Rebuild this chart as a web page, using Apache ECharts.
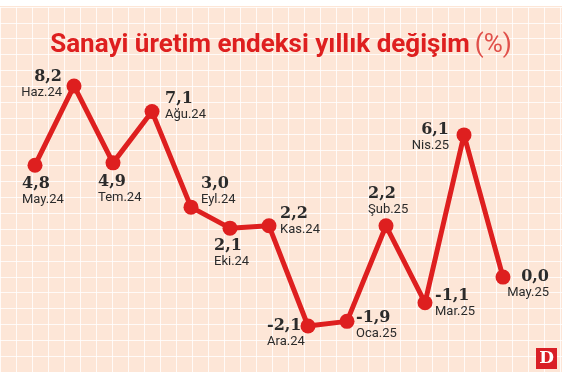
<!DOCTYPE html>
<html>
<head>
<meta charset="utf-8">
<script src="https://cdn.jsdelivr.net/npm/echarts@6/dist/echarts.min.js"></script>
<style>
  html, body { margin: 0; padding: 0; background: #fff; }
  #chart { width: 562px; height: 372px; }
</style>
</head>
<body>
<div id="chart"></div>
<script>
// aylar ve yıllık değişim (%)
let months = ['May.24', 'Haz.24', 'Tem.24', 'Ağu.24', 'Eyl.24', 'Eki.24', 'Kas.24',
              'Ara.24', 'Oca.25', 'Şub.25', 'Mar.25', 'Nis.25', 'May.25'];
let values = [4.8, 8.2, 4.9, 7.1, 3.0, 2.1, 2.2, -2.1, -1.9, 2.2, -1.1, 6.1, 0.0];

// label placement per point (style only)
let labelPlace = [
    { align: 'left',  offset: [-13, 27] },   // May.24
    { align: 'right', offset: [-12, -1] },   // Haz.24
    { align: 'left',  offset: [-15, 27] },   // Tem.24
    { align: 'left',  offset: [13, -5] },    // Ağu.24
    { align: 'left',  offset: [10, -15] },   // Eyl.24
    { align: 'left',  offset: [-16, 26] },   // Eki.24
    { align: 'left',  offset: [11, -4] },    // Kas.24
    { align: 'left',  offset: [-41, 8] },    // Ara.24
    { align: 'left',  offset: [9, 4] },      // Oca.25
    { align: 'left',  offset: [-18, -24] },  // Şub.25
    { align: 'left',  offset: [10, 1] },     // Mar.25
    { align: 'right', offset: [-15, 3] },    // Nis.25
    { align: 'right', offset: [46, 8] }      // May.25
];

let red = '#de1f1f';

let fmt = v => v.toFixed(1).replace('.', ',');

let seriesData = values.map((v, i) => ({
    value: v,
    label: {
        position: 'inside',
        align: labelPlace[i].align,
        offset: labelPlace[i].offset
    }
}));

let option = {
    backgroundColor: '#fde6d7',
    animation: false,
    title: {
        text: '{b|Sanayi üretim endeksi yıllık değişim} {n|(%)}',
        left: 'center',
        top: 27,
        textStyle: {
            rich: {
                b: { fontFamily: 'Roboto', fontWeight: 'bold', fontSize: 26, color: red },
                n: { fontFamily: 'Roboto', fontWeight: 'normal', fontSize: 26, color: '#e0504a' }
            }
        }
    },
    grid: [
        { left: 35, right: 59, top: 44, bottom: 25, containLabel: false },
        { left: 0, right: 0, top: 7, bottom: 0, z: 0 }
    ],
    xAxis: [
        {
            type: 'category',
            gridIndex: 0,
            data: months,
            boundaryGap: false,
            show: false
        },
        {
            type: 'value',
            gridIndex: 1,
            min: 0, max: 562, interval: 16,
            axisLine: { show: false }, axisTick: { show: false }, axisLabel: { show: false },
            splitLine: { show: true, lineStyle: { color: '#ffffff', width: 1, opacity: 0.8 } }
        }
    ],
    yAxis: [
        {
            type: 'value',
            gridIndex: 0,
            min: -3, max: 10,
            show: false,
            splitLine: { show: false }
        },
        {
            type: 'value',
            gridIndex: 1,
            min: 0, max: 368, interval: 16,
            inverse: true,
            axisLine: { show: false }, axisTick: { show: false }, axisLabel: { show: false },
            splitLine: { show: true, lineStyle: { color: '#ffffff', width: 1, opacity: 0.8 } }
        }
    ],
    series: [
        {
            type: 'line',
            xAxisIndex: 0,
            yAxisIndex: 0,
            data: seriesData,
            z: 5,
            symbol: 'circle',
            symbolSize: 15,
            lineStyle: { color: red, width: 5 },
            itemStyle: { color: red },
            label: {
                show: true,
                formatter: p => '{v|' + fmt(p.value) + '}\n{c|' + months[p.dataIndex] + '}',
                rich: {
                    v: { fontFamily: 'DejaVu Serif', fontWeight: 'bold', fontSize: 16, color: '#2b2b2b', lineHeight: 16 },
                    c: { fontFamily: 'Roboto', fontSize: 13, color: '#2b2b2b', lineHeight: 16, letterSpacing: -0.5 }
                }
            }
        }
    ],
    graphic: [
        { type: 'rect', shape: { x: 0, y: 0, width: 562, height: 6 }, style: { fill: '#ffffff' }, z: 10 },
        { type: 'rect', shape: { x: 536, y: 348, width: 21, height: 21 }, style: { fill: '#d91f26' }, z: 10 },
        { type: 'text', x: 546.5, y: 359, style: {
            text: 'D', fill: '#ffffff', font: 'bold 17px "DejaVu Serif"', align: 'center', verticalAlign: 'middle'
        }, z: 11 }
    ]
};

let myChart = echarts.init(document.getElementById('chart'));
myChart.setOption(option);
</script>
</body>
</html>
